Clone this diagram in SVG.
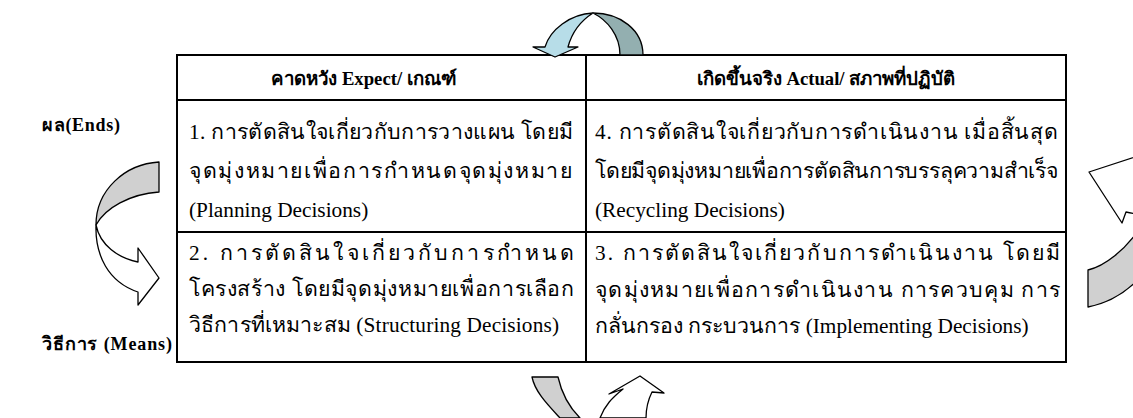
<svg xmlns="http://www.w3.org/2000/svg" width="1133" height="418" viewBox="0 0 1133 418">
<style>
.cell{fill:#fff;stroke:#000;stroke-width:2}
.hd{font-family:"Liberation Serif",serif;font-weight:bold;font-size:18.7px;fill:#000}
.bd{font-family:"Liberation Serif",serif;font-size:21.3px;fill:#000}
.lb{font-family:"Liberation Serif",serif;font-weight:bold;font-size:18px;fill:#000}
.ar{stroke:#000;stroke-width:1.3;stroke-linejoin:round}
.gray{fill:#d0d0d0}
.wht{fill:#fff}
.lt{fill:#b7dde8}
.dk{fill:#93afb0}
</style>
<rect width="1133" height="418" fill="#fff"/>
<g id="cell-h1"><rect class="cell" x="177" y="55" width="409" height="45"/>
<text class="hd" x="364" y="85" text-anchor="middle">คาดหวัง Expect/ เกณฑ์</text></g>
<g id="cell-h2"><rect class="cell" x="586" y="55" width="480" height="45"/>
<text class="hd" x="826" y="85" text-anchor="middle">เกิดขึ้นจริง Actual/ สภาพที่ปฏิบัติ</text></g>
<g id="cell-1"><rect class="cell" x="177" y="100" width="409" height="132"/>
<text class="bd" x="189" y="139" textLength="384" lengthAdjust="spacing">1. การตัดสินใจเกี่ยวกับการวางแผน  โดยมี</text>
<text class="bd" x="189" y="178" textLength="383" lengthAdjust="spacing">จุดมุ่งหมายเพื่อการกำหนดจุดมุ่งหมาย</text>
<text class="bd" x="189" y="217">(Planning Decisions)</text></g>
<g id="cell-4"><rect class="cell" x="586" y="100" width="480" height="132"/>
<text class="bd" x="595" y="139" textLength="463" lengthAdjust="spacing">4. การตัดสินใจเกี่ยวกับการดำเนินงาน  เมื่อสิ้นสุด</text>
<text class="bd" x="595" y="178" textLength="463" lengthAdjust="spacing">โดยมีจุดมุ่งหมายเพื่อการตัดสินการบรรลุความสำเร็จ</text>
<text class="bd" x="595" y="217">(Recycling Decisions)</text></g>
<g id="cell-2"><rect class="cell" x="177" y="232" width="409" height="130"/>
<text class="bd" x="189" y="260" textLength="385" lengthAdjust="spacing">2.   การตัดสินใจเกี่ยวกับการกำหนด</text>
<text class="bd" x="189" y="296" textLength="385" lengthAdjust="spacing">โครงสร้าง  โดยมีจุดมุ่งหมายเพื่อการเลือก</text>
<text class="bd" x="189" y="332" textLength="370" lengthAdjust="spacing">วิธีการที่เหมาะสม (Structuring Decisions)</text></g>
<g id="cell-3"><rect class="cell" x="586" y="232" width="480" height="130"/>
<text class="bd" x="595" y="260" textLength="465" lengthAdjust="spacing">3. การตัดสินใจเกี่ยวกับการดำเนินงาน  โดยมี</text>
<text class="bd" x="595" y="297" textLength="465" lengthAdjust="spacing">จุดมุ่งหมายเพื่อการดำเนินงาน  การควบคุม  การ</text>
<text class="bd" x="595" y="333">กลั่นกรอง  กระบวนการ (Implementing Decisions)</text></g>
<g id="label-ends"><text class="lb" x="42" y="131" textLength="78" lengthAdjust="spacing">ผล(Ends)</text></g>
<g id="label-means"><text class="lb" x="42" y="350" textLength="130" lengthAdjust="spacing">วิธีการ (Means)</text></g>
<g id="connectors">
<g id="arrow-top">
<path class="ar dk" d="M620,55 L643,55 C643,30 620,13 593,13 C607,20 620,35 620,55 Z"/>
<path class="ar lt" d="M593,13 C570,14 550,30 545,47 L533,47 L555,57 L578,47 L568,47 C572,32 582,20 593,13 Z"/>
</g>
<g id="arrow-left">
<path class="ar gray" d="M159,162 L159,192 C130,194 105,208 96,225 C96,190 125,164 159,162 Z"/>
<path class="ar wht" d="M96,225 C95,255 108,282 138,292 L138,305 L159,278 L138,248 L138,262 C118,258 100,245 96,225 Z"/>
</g>
<g id="arrow-right">
<path class="ar wht" d="M1089,172 L1150,152 L1145,165 C1165,180 1175,210 1170,240 C1160,225 1145,215 1126,212 L1122,223 Z"/>
<path class="ar gray" d="M1088,270 C1105,266 1125,250 1140,228 L1160,250 C1140,285 1115,302 1088,307 Z"/>
</g>
<g id="arrow-bottom">
<path class="ar gray" d="M532,377 L558,377 C562,395 570,408 580,418 L560,418 C548,405 535,392 532,377 Z"/>
<path class="ar wht" d="M600,418 C605,405 612,398 623,389 L609,394 L640,376 L664,393 L652,392 C648,400 646,410 646,418 Z"/>
</g>
</g>
</svg>
